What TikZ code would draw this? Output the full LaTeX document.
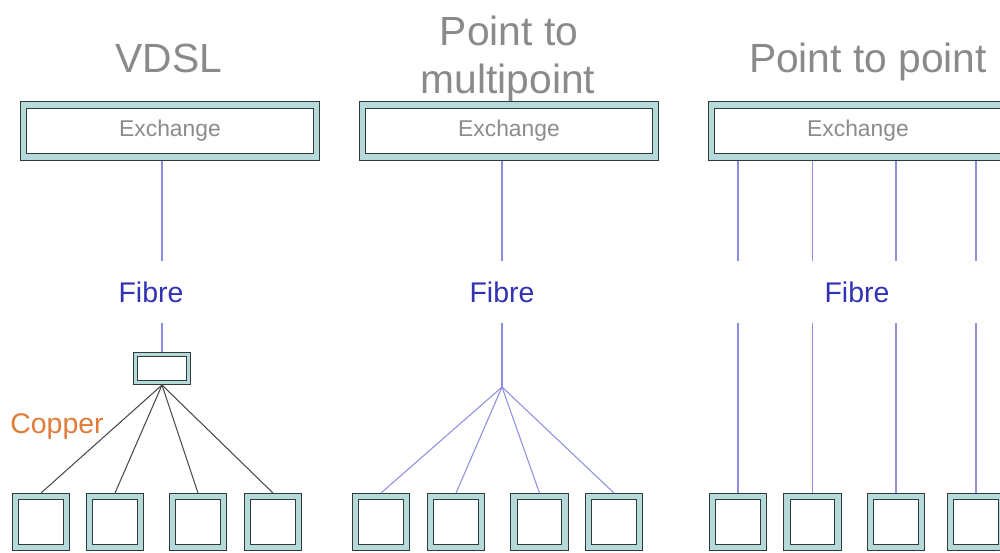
\documentclass[tikz,border=0pt]{standalone}
\usepackage{fontspec}
\setmainfont{Liberation Sans}
\definecolor{boxline}{HTML}{2F3A3A}
\definecolor{boxteal}{HTML}{B6DADA}
\definecolor{titlegray}{HTML}{8A8A8A}
\definecolor{exgray}{HTML}{8C8C8C}
\definecolor{fibretext}{HTML}{3232B4}
\definecolor{fibreline}{HTML}{8E8EE2}
\definecolor{copperline}{HTML}{4A4A4A}
\definecolor{coppertext}{HTML}{E07B39}
\begin{document}
\begin{tikzpicture}[x=0.02cm,y=-0.02cm,
  unitbox/.style={draw=boxline, double=boxteal, double distance=0.11cm, line width=0.5pt,
    fill=white, minimum width=1.02cm, minimum height=1.02cm, inner sep=0, outer sep=0.07cm},
  exbox/.style={draw=boxline, double=boxteal, double distance=0.11cm, line width=0.5pt,
    fill=white, minimum width=5.86cm, minimum height=1.04cm, inner sep=0, outer sep=0.07cm,
    text=exgray, font=\fontsize{13}{15}\selectfont},
  cabbox/.style={draw=boxline, double=boxteal, double distance=0.07cm, line width=0.5pt,
    fill=white, minimum width=1.06cm, minimum height=0.56cm, inner sep=0, outer sep=0.05cm},
  title/.style={text=titlegray, font=\fontsize{23.2}{28}\selectfont, anchor=base, inner sep=0},
  fibrelabel/.style={text=fibretext, font=\fontsize{16.2}{19}\selectfont, minimum height=1.24cm, inner sep=0},
  fibre/.style={draw=fibreline, line width=0.6pt},
  copper/.style={draw=copperline, line width=0.6pt}]
\useasboundingbox (0,0) rectangle (1000,552);

% titles
\node[title] (tV) at (169,72) {VDSL};
\node[title] (tP1) at (509,45) {Point to};
\node[title] (tP2) at (508,93) {multipoint};
\node[title] (tPP) at (868,72) {Point to point};

% exchanges
\node[exbox] (exV) at (170,131) {Exchange};
\node[exbox] (exM) at (509,131) {Exchange};
\node[exbox] (exR) at (858,131) {Exchange};

% fibre labels
\node[fibrelabel] (fV) at (151,292) {Fibre};
\node[fibrelabel] (fM) at (502,292) {Fibre};
\node[fibrelabel] (fR) at (857,292) {Fibre};

% VDSL
\node[cabbox] (cab) at (162,368.5) {};
\node[text=coppertext, font=\fontsize{16.2}{19}\selectfont, inner sep=0, anchor=base] (cu) at (57,433) {Copper};
\node[unitbox] (v1) at (41,522) {};
\node[unitbox] (v2) at (115,522) {};
\node[unitbox] (v3) at (198,522) {};
\node[unitbox] (v4) at (273,522) {};
\draw[fibre] (cab.north |- exV.south) -- (cab.north |- fV.north);
\draw[fibre] (cab.north |- fV.south) -- (cab.north);
\coordinate (cabout) at (162,385);
\foreach \b in {v1,v2,v3,v4} \draw[copper] (cabout) -- (\b.north);

% Point to multipoint
\coordinate (split) at (502,387);
\node[unitbox] (m1) at (381,522) {};
\node[unitbox] (m2) at (456,522) {};
\node[unitbox] (m3) at (539.5,522) {};
\node[unitbox] (m4) at (614,522) {};
\draw[fibre] (split |- exM.south) -- (fM.north);
\draw[fibre] (fM.south) -- (split);
\foreach \b in {m1,m2,m3,m4} \draw[fibre] (split) -- (\b.north);

% Point to point
\node[unitbox] (r1) at (738,522) {};
\node[unitbox] (r2) at (812.5,522) {};
\node[unitbox] (r3) at (896,522) {};
\node[unitbox] (r4) at (976,522) {};
\foreach \b in {r1,r2,r3,r4} {
  \draw[fibre] (\b.north |- exR.south) -- (\b.north |- fR.north);
  \draw[fibre] (\b.north |- fR.south) -- (\b.north);
}
\end{tikzpicture}
\end{document}
